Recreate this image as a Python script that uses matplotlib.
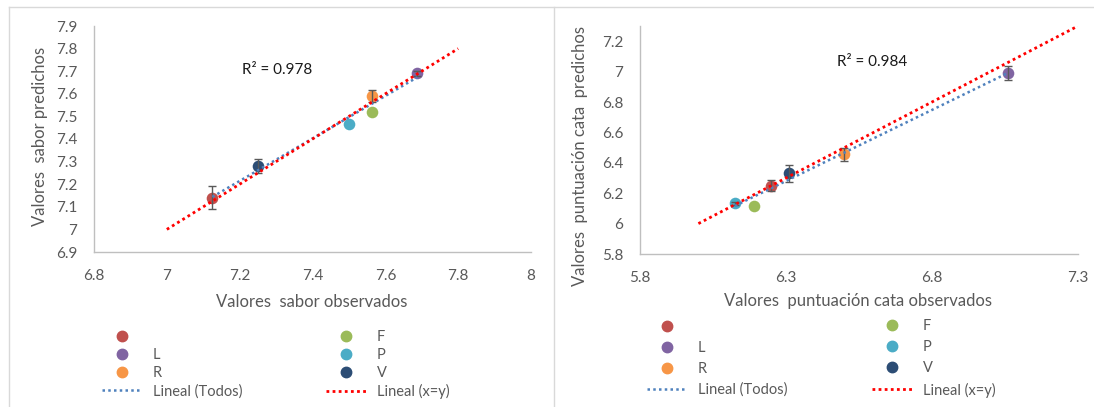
import numpy as np
import matplotlib
matplotlib.use("Agg")
import matplotlib.pyplot as plt
from matplotlib.lines import Line2D

plt.rcParams['font.family'] = ['Lato', 'DejaVu Sans']

# ---- data ----
series_names = [" ", "L", "R", "F", "P", "V"]
series_colors = ["#C0504D", "#8064A2", "#F79646", "#9BBB59", "#4BACC6", "#2C4D75"]

sabor_obs = [7.125, 7.6875, 7.5625, 7.5625, 7.50, 7.25]
sabor_pred = [7.14, 7.69, 7.59, 7.52, 7.465, 7.28]
sabor_err = [0.05, 0.01, 0.025, 0.0, 0.0, 0.03]
sabor_xy = [7.0, 7.8]
sabor_r2 = "R² = 0.978"

cata_obs = [6.25, 7.06, 6.50, 6.19, 6.125, 6.31]
cata_pred = [6.25, 6.99, 6.455, 6.115, 6.135, 6.33]
cata_err = [0.035, 0.048, 0.045, 0.0, 0.01, 0.055]
cata_xy = [6.0, 7.3]
cata_r2 = "R² = 0.984"

sabor_xticks = [6.8, 7.0, 7.2, 7.4, 7.6, 7.8, 8.0]
sabor_xticklabels = ["6.8", "7", "7.2", "7.4", "7.6", "7.8", "8"]
sabor_yticks = [6.9, 7.0, 7.1, 7.2, 7.3, 7.4, 7.5, 7.6, 7.7, 7.8, 7.9]
sabor_yticklabels = ["6.9", "7", "7.1", "7.2", "7.3", "7.4", "7.5", "7.6", "7.7", "7.8", "7.9"]

cata_xticks = [5.8, 6.3, 6.8, 7.3]
cata_xticklabels = ["5.8", "6.3", "6.8", "7.3"]
cata_yticks = [5.8, 6.0, 6.2, 6.4, 6.6, 6.8, 7.0, 7.2]
cata_yticklabels = ["5.8", "6", "6.2", "6.4", "6.6", "6.8", "7", "7.2"]

W, H = 1094, 407
fig = plt.figure(figsize=(W / 100, H / 100), dpi=100)

GRAY = "#595959"
SPINE = "#BFBFBF"
RED_DOT = (0, (1, 1.2))
BLUE_DOT = (0, (1, 1.3))


def px_ax(x0, x1, ytop, ybot):
    return [x0 / W, 1 - ybot / H, (x1 - x0) / W, (ybot - ytop) / H]


def draw(ax, xs, ys, errs, xy, xlim, ylim, xt, xtl, yt, ytl, xlabel, ylabel,
         r2, r2pos, xlab_pos, ylab_pos):
    for x, y, e, c in zip(xs, ys, errs, series_colors):
        ax.scatter([x], [y], s=70, color=c, zorder=2, linewidths=0)
        if e > 0:
            ax.errorbar([x], [y], yerr=[e], fmt='none', ecolor="#595959",
                        elinewidth=1.0, capsize=3, capthick=1.0, zorder=3)
    # linear trend of all points
    k, b = np.polyfit(xs, ys, 1)
    tx = np.array([min(xs), max(xs)])
    ax.plot(tx, k * tx + b, color="#4F81BD", lw=1.8, ls=BLUE_DOT, zorder=4)
    ax.plot(xy, xy, color="#FF0000", lw=2.0, ls=RED_DOT, zorder=5)
    ax.set_xlim(*xlim)
    ax.set_ylim(*ylim)
    ax.set_xticks(xt)
    ax.set_xticklabels(xtl)
    ax.set_yticks(yt)
    ax.set_yticklabels(ytl)
    ax.tick_params(length=0, pad=12, labelsize=11, labelcolor=GRAY)
    for s in ["top", "right"]:
        ax.spines[s].set_visible(False)
    for s in ["left", "bottom"]:
        ax.spines[s].set_color(SPINE)
        ax.spines[s].set_linewidth(1.0)
    ax.set_xlabel(xlabel, fontsize=12, color=GRAY, va='center')
    ax.xaxis.set_label_coords(*xlab_pos)
    ax.set_ylabel(ylabel, fontsize=12, color=GRAY, va='center')
    ax.yaxis.set_label_coords(*ylab_pos)
    ax.text(r2pos[0], r2pos[1], r2, transform=ax.transAxes, ha='center',
            va='center', fontsize=11, color="#1a1a1a")


ax1 = fig.add_axes(px_ax(94, 531, 26, 252))
draw(ax1, sabor_obs, sabor_pred, sabor_err, sabor_xy, (6.8, 8.0), (6.9, 7.9),
     sabor_xticks, sabor_xticklabels, sabor_yticks, sabor_yticklabels,
     "Valores  sabor observados", "Valores  sabor predichos",
     sabor_r2, (0.419, 0.805), (0.498, -0.22), (-0.124, 0.513))

ax2 = fig.add_axes(px_ax(640, 1078, 26, 254))
draw(ax2, cata_obs, cata_pred, cata_err, cata_xy, (5.8, 7.3), (5.8, 7.3),
     cata_xticks, cata_xticklabels, cata_yticks, cata_yticklabels,
     "Valores  puntuación cata observados", "Valores  puntuación cata  predichos",
     cata_r2, (0.530, 0.844), (0.498, -0.207), (-0.137, 0.43))


def marker_handle(c):
    return Line2D([], [], ls='none', marker='o', markersize=7.5,
                  markerfacecolor=c, markeredgecolor=c)


h_blank, h_L, h_R, h_F, h_P, h_V = [marker_handle(c) for c in series_colors]
h_todos = Line2D([], [], color="#4F81BD", lw=1.8, ls=BLUE_DOT)
h_xy = Line2D([], [], color="#FF0000", lw=2.0, ls=RED_DOT)

col1 = ([h_blank, h_L, h_R, h_todos], [series_names[0], series_names[1], series_names[2], "Lineal (Todos)"])
col2 = ([h_F, h_P, h_V, h_xy], [series_names[3], series_names[4], series_names[5], "Lineal (x=y)"])


def add_leg(handles, labels, xpx, ymid_px, spacing):
    fig.legend(handles, labels, loc='center left',
               bbox_to_anchor=(xpx / W, 1 - ymid_px / H),
               bbox_transform=fig.transFigure, frameon=False,
               fontsize=10.5, labelcolor=GRAY, borderpad=0, borderaxespad=0,
               handlelength=2.75, handletextpad=0.75, labelspacing=spacing)


add_leg(*col1, 102, 364.4, 0.27)
add_leg(*col2, 326, 364.4, 0.27)
add_leg(*col1, 647, 358.5, 0.48)
add_leg(*col2, 872, 358.5, 0.48)

# chart-area borders
fc = "#D9D9D9"
fig.add_artist(Line2D([9 / W, 1], [1 - 7 / H, 1 - 7 / H], transform=fig.transFigure, color=fc, lw=1))
fig.add_artist(Line2D([9 / W, 9 / W], [0, 1 - 7 / H], transform=fig.transFigure, color=fc, lw=1))
fig.add_artist(Line2D([554 / W, 554 / W], [0, 1 - 7 / H], transform=fig.transFigure, color=fc, lw=1))

fig.savefig("out.png", dpi=100)
